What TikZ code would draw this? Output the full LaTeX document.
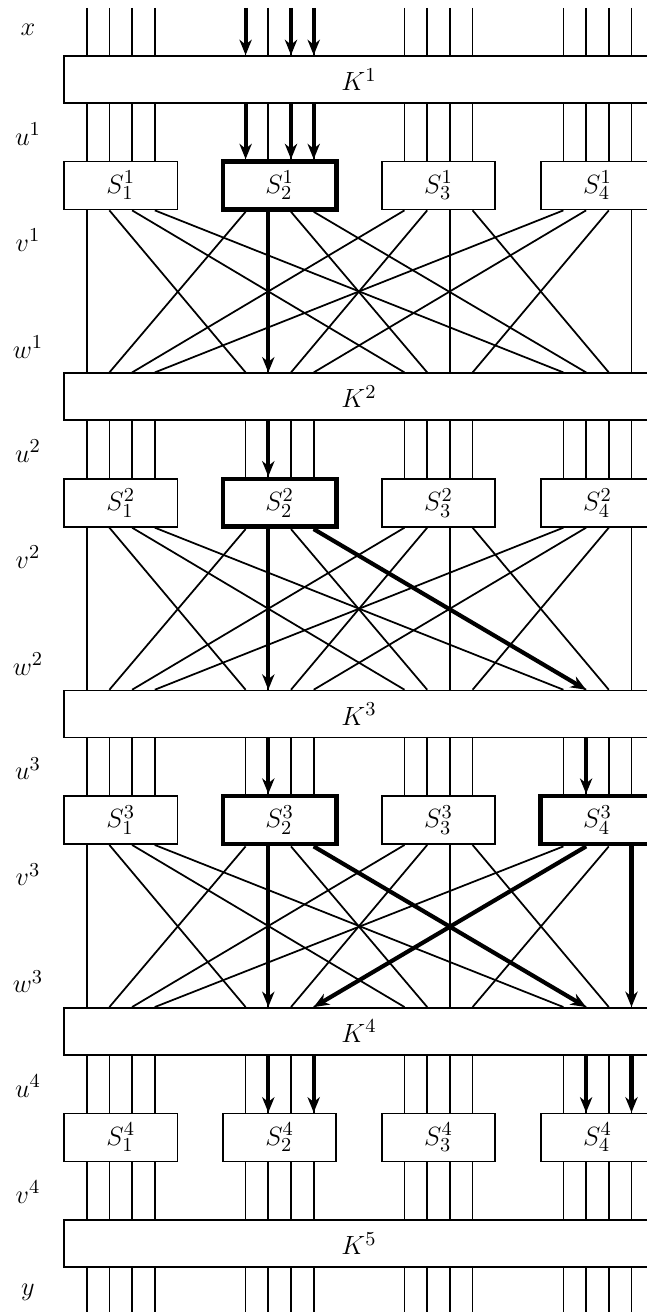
\documentclass[tikz,border=0pt]{standalone}
\usetikzlibrary{arrows.meta}

\begin{document}
\begin{tikzpicture}[
		x=0.016cm, y=-0.016cm,
		line cap=butt, line join=miter,
		every node/.style={font=\fontsize{13}{15}\selectfont},
		wire/.style={line width=0.8pt},
		trail/.style={line width=1.9pt,
				-{Stealth[length=7pt,width=5.6pt,inset=2.2pt]}},
		kbox/.style={draw, line width=0.8pt, minimum width=9.44cm,
				minimum height=0.752cm, inner sep=0pt},
		sbox/.style={draw, minimum width=1.815cm,
				minimum height=0.768cm, inner sep=0pt},
		lbl/.style={inner sep=1pt}]

	% ---- cornice (l'originale e` tagliato a destra) ----
	\useasboundingbox (0,0) rectangle (647,1312);
	\clip (0,0) rectangle (647,1312);

	% ---- posizioni dei 16 fili: gruppo g, bit b ----
	\foreach \g in {0,...,3}
	\foreach \b in {0,...,3} {
			\coordinate (in\g\b)  at ({86.7+22.7*(7*\g+\b)},8);
			\coordinate (out\g\b) at ({86.7+22.7*(7*\g+\b)},1312);
		}

	% ---- chiavi K e S-box di ogni round ----
	\foreach \r in {1,...,4} {
			\pgfmathsetmacro{\kt}{56+317.3*(\r-1)}
			\node[kbox] (K\r) at (359,\kt+23.5) {$K^{\r}$};
			\foreach \g [count=\n] in {0,...,3} {
					\pgfmathsetmacro{\lw}{((\r<4)*(\n==2)+(\r==3)*(\n==4))>0 ? 2.1 : 0.8}
					\node[sbox, line width=\lw pt] (S\r\n)
					at ({86.7+22.7*7*\g+34.05},\kt+129.5) {$S^{\r}_{\n}$};
				}
			% etichette a sinistra
			\node[lbl] (u\r) at (28,\kt+78)  {$u^{\r}$};
			\node[lbl] (v\r) at (28,\kt+184) {$v^{\r}$};
			\ifnum\r<4
				\node[lbl] (w\r) at (28,\kt+291) {$w^{\r}$};
			\fi
		}
	\node[kbox] (K5) at (359,1243.7) {$K^5$};
	\node[lbl] (lx) at (28,30)   {$x$};
	\node[lbl] (ly) at (28,1292) {$y$};

	% ---- fili: ingresso, K -> S, ultimo round e uscita ----
	\foreach \g in {0,...,3}
	\foreach \b in {0,...,3}
	\draw[wire] (in\g\b) -- (K1.north -| in\g\b);

	\foreach \r in {1,...,4}
	\foreach \g [count=\n] in {0,...,3}
	\foreach \b in {0,...,3}
	\draw[wire] (K\r.south -| in\g\b) -- (S\r\n.north -| in\g\b);

	\foreach \g [count=\n] in {0,...,3}
	\foreach \b in {0,...,3} {
			\draw[wire] (S4\n.south -| in\g\b) -- (K5.north -| in\g\b);
			\draw[wire] (K5.south -| in\g\b) -- (out\g\b);
		}

	% ---- permutazione: bit b del gruppo g -> bit g del gruppo b ----
	\foreach \r [evaluate=\r as \rr using int(\r+1)] in {1,2,3}
	\foreach \g [count=\n] in {0,...,3}
	\foreach \b in {0,...,3}
	\draw[wire] (S\r\n.south -| in\g\b) -- (K\rr.north -| in\b\g);

	% ---- traccia differenziale (frecce spesse) ----
	\foreach \b in {0,2,3} {
			\draw[trail] (in1\b) -- (K1.north -| in1\b);
			\draw[trail] (K1.south -| in1\b) -- (S12.north -| in1\b);
		}
	\draw[trail] (S12.south -| in11) -- (K2.north -| in11);
	\draw[trail] (K2.south -| in11) -- (S22.north -| in11);
	\draw[trail] (S22.south -| in11) -- (K3.north -| in11);
	\draw[trail] (S22.south -| in13) -- (K3.north -| in31);
	\draw[trail] (K3.south -| in11) -- (S32.north -| in11);
	\draw[trail] (K3.south -| in31) -- (S34.north -| in31);
	\draw[trail] (S32.south -| in11) -- (K4.north -| in11);
	\draw[trail] (S32.south -| in13) -- (K4.north -| in31);
	\draw[trail] (S34.south -| in31) -- (K4.north -| in13);
	\draw[trail] (S34.south -| in33) -- (K4.north -| in33);
	\foreach \w/\s in {11/2,13/2,31/4,33/4}
	\draw[trail] (K4.south -| in\w) -- (S4\s.north -| in\w);

\end{tikzpicture}
\end{document}
